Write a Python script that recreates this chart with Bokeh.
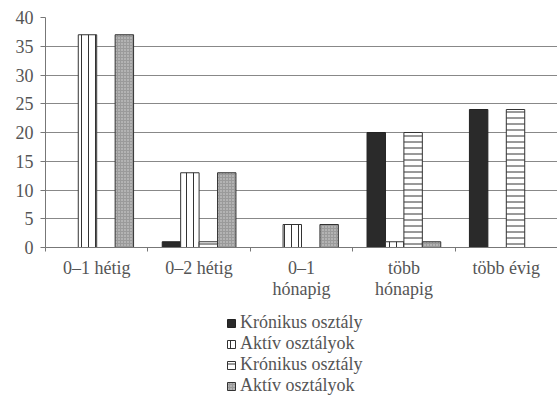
from bokeh.plotting import figure
from bokeh.models import (Range1d, LinearAxis, FixedTicker, Legend, LegendItem, ColumnDataSource)
from bokeh.layouts import column
from bokeh.transform import dodge
from bokeh.embed import file_html
from bokeh.resources import INLINE

categories = ["0–1 hétig", "0–2 hétig", "0–1 hónapig", "több hónapig", "több évig"]
category_labels = ["0–1 hétig", "0–2 hétig", "0–1\nhónapig", "több\nhónapig", "több évig"]
series_names = ["Krónikus osztály", "Aktív osztályok", "Krónikus osztály", "Aktív osztályok"]
kronikus_1 = [0, 1, 0, 20, 24]
aktiv_1 = [37, 13, 4, 1, 0]
kronikus_2 = [0, 1, 0, 20, 24]
aktiv_2 = [37, 13, 4, 1, 0]
y_ticks = [0, 5, 10, 15, 20, 25, 30, 35, 40]

FONT = "'Liberation Serif', 'DejaVu Serif', serif"
TXT = "#555555"

n = len(categories)
centers = [i + 0.5 for i in range(n)]
bounds = list(range(n + 1))
source = ColumnDataSource(dict(x=centers, cat=categories, k1=kronikus_1, a1=aktiv_1, k2=kronikus_2, a2=aktiv_2))

p = figure(x_range=Range1d(0, n), y_range=Range1d(0, 40),
           frame_width=512, frame_height=230,
           min_border_left=45, min_border_top=17, min_border_right=0, min_border_bottom=0,
           x_axis_location=None, y_axis_location="left",
           output_backend="svg", toolbar_location=None)
p.outline_line_color = None
p.background_fill_color = "white"
p.border_fill_color = "white"

# y axis
p.yaxis.ticker = FixedTicker(ticks=y_ticks)
p.yaxis.major_label_text_font = FONT
p.yaxis.major_label_text_font_size = "18px"
p.yaxis.major_label_text_color = TXT
p.yaxis.axis_line_color = "#777777"
p.yaxis.major_tick_line_color = "#777777"
p.yaxis.major_tick_out = 5
p.yaxis.major_tick_in = 0
p.yaxis.minor_tick_line_color = None
p.yaxis.major_label_standoff = 7

p.xgrid.grid_line_color = None
p.ygrid.ticker = FixedTicker(ticks=y_ticks)
p.ygrid.grid_line_color = "#888888"
p.ygrid.grid_line_width = 1

# x axis: boundary ticks on one axis, category labels on a second axis
bound_axis = LinearAxis(ticker=FixedTicker(ticks=bounds),
                        major_label_overrides={b: "" for b in bounds},
                        major_label_text_font_size="1px", major_label_standoff=0,
                        major_tick_out=4, major_tick_in=0, minor_tick_line_color=None,
                        axis_line_color="#777777", major_tick_line_color="#777777")
p.add_layout(bound_axis, "below")
label_axis = LinearAxis(ticker=FixedTicker(ticks=centers), minor_tick_line_color=None,
                        axis_line_color=None, major_tick_line_color=None,
                        major_label_text_font=FONT, major_label_text_font_size="18px",
                        major_label_text_line_height=1.05,
                        major_label_text_color=TXT, major_label_standoff=0,
                        major_label_overrides=dict(zip(centers, category_labels)))
p.add_layout(label_axis, "below")

w = 0.18
styles = [
    dict(fill_color="#2a2a2a", line_color="#222222", line_width=1),
    dict(fill_color="white", line_color="#333333", line_width=1,
         hatch_pattern="vertical_line", hatch_color="#333333", hatch_scale=7, hatch_weight=1),
    dict(fill_color="white", line_color="#333333", line_width=1,
         hatch_pattern="horizontal_line", hatch_color="#333333", hatch_scale=6, hatch_weight=1),
    dict(fill_color="#9a9a9a", line_color="#333333", line_width=1,
         hatch_pattern="dot", hatch_color="#d8d8d8", hatch_scale=3, hatch_weight=1),
]
cols = ["k1", "a1", "k2", "a2"]
offsets = [-0.27, -0.09, 0.09, 0.27]
for c, off, st in zip(cols, offsets, styles):
    p.vbar(x=dodge("x", off), top=c, width=w, source=source, **st)

# legend in its own strip below the chart (its bars lie outside the visible range)
lg = figure(width=557, height=95, x_range=Range1d(-20, -19), y_range=Range1d(0, 1),
            x_axis_location=None, y_axis_location=None, min_border=0,
            output_backend="svg", toolbar_location=None)
lg.outline_line_color = None
lg.xgrid.grid_line_color = None
lg.ygrid.grid_line_color = None
items = []
for name, c, st in zip(series_names, cols, styles):
    r = lg.vbar(x="x", top=c, width=w, source=source, **st)
    items.append(LegendItem(label=name, renderers=[r]))
legend = Legend(items=items, location=(181, 0), orientation="vertical",
                border_line_color=None, background_fill_alpha=0,
                label_text_font=FONT, label_text_font_size="18px", label_text_color=TXT,
                glyph_width=10, glyph_height=10, label_height=19, label_standoff=4,
                spacing=0, padding=0, margin=0)
lg.add_layout(legend)

open("out.html", "w").write(file_html(column(p, lg, spacing=0), INLINE))
